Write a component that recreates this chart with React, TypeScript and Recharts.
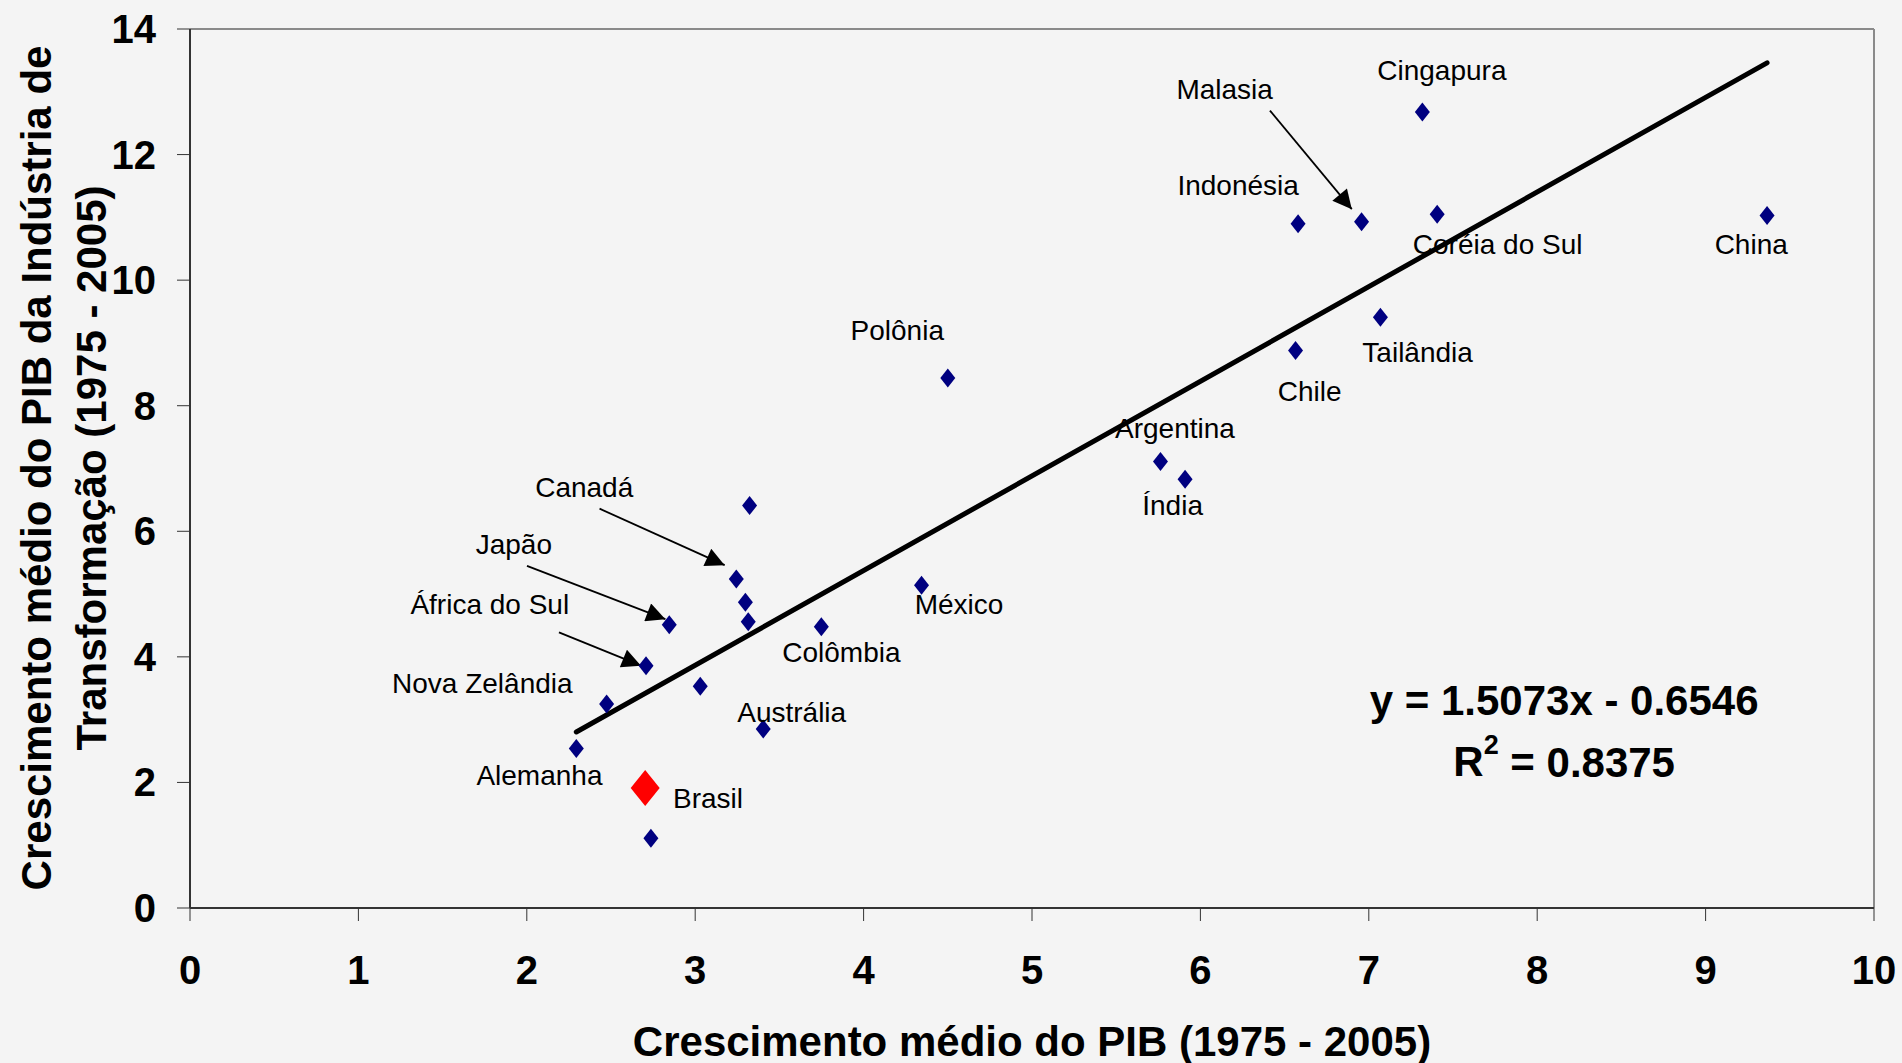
import { ScatterChart, Scatter, XAxis, YAxis, ReferenceLine } from "recharts";

// average growth 1975-2005: GDP (x) vs manufacturing GDP (y)
const pointX = [2.294, 2.474, 2.708, 2.846, 3.03, 3.244, 3.298, 3.315, 3.323, 3.404, 3.749, 4.344, 4.5, 5.763, 5.909, 6.565, 6.58, 6.957, 7.069, 7.318, 7.406, 9.365, 2.737];
const pointY = [2.54, 3.25, 3.86, 4.51, 3.53, 5.24, 4.87, 4.56, 6.41, 2.85, 4.48, 5.14, 8.44, 7.11, 6.83, 8.88, 10.9, 10.93, 9.41, 12.68, 11.05, 11.03, 1.11];

const brasilX = [2.703];
const brasilY = [1.91];

const labelNames = ["Malasia", "Cingapura", "Indonésia", "Coréia do Sul", "China", "Polônia", "Tailândia", "Chile", "Argentina", "Índia", "Canadá", "Japão", "África do Sul", "México", "Colômbia", "Nova Zelândia", "Austrália", "Alemanha", "Brasil"];
const labelX = [6.144, 7.434, 6.224, 7.765, 9.271, 4.2, 7.29, 6.649, 5.849, 5.835, 2.341, 1.923, 1.78, 4.567, 3.868, 1.736, 3.573, 2.075, 3.076];
const labelY = [13.03, 13.34, 11.51, 10.56, 10.56, 9.19, 8.84, 8.23, 7.63, 6.41, 6.7, 5.79, 4.83, 4.83, 4.07, 3.57, 3.11, 2.11, 1.74];

const arrowFromX = [2.432, 2.001, 2.191, 6.413];
const arrowFromY = [6.36, 5.45, 4.39, 12.7];
const arrowToX = [3.175, 2.823, 2.678, 6.899];
const arrowToY = [5.46, 4.6, 3.86, 11.13];

const trendSlope = 1.5073;
const trendIntercept = -0.6546;
const trendRange = [2.294, 9.365];
const rSquared = 0.8375;

const xTicks = [0, 1, 2, 3, 4, 5, 6, 7, 8, 9, 10];
const yTicks = [0, 2, 4, 6, 8, 10, 12, 14];

const FONT = "'Liberation Sans', Arial, sans-serif";

const points = pointX.map((x, i) => ({ x, y: pointY[i] }));
const brasil = brasilX.map((x, i) => ({ x, y: brasilY[i] }));
const labels = labelNames.map((name, i) => ({ x: labelX[i], y: labelY[i], name }));
const equation = [
  { x: 8.16, y: 3.3, kind: "eq" },
  { x: 8.16, y: 2.33, kind: "r2" },
];

const diamond = (w: number, h: number, fill: string) => (props: any) => {
  const { cx, cy } = props;
  return <polygon points={`${cx},${cy - h} ${cx + w},${cy} ${cx},${cy + h} ${cx - w},${cy}`} fill={fill} />;
};

const LabelText = (props: any) => (
  <text x={props.cx} y={props.cy} textAnchor="middle" dominantBaseline="central" fontFamily={FONT} fontSize={28} fill="#000">
    {props.payload.name}
  </text>
);

const EquationText = (props: any) => {
  const { cx, cy, payload } = props;
  if (payload.kind === "eq") {
    return (
      <text x={cx} y={cy} textAnchor="middle" dominantBaseline="central" fontFamily={FONT} fontSize={42} fontWeight="bold" fill="#000">
        {`y = ${trendSlope}x - ${Math.abs(trendIntercept)}`}
      </text>
    );
  }
  return (
    <text x={cx} y={cy} textAnchor="middle" dominantBaseline="central" fontFamily={FONT} fontSize={42} fontWeight="bold" fill="#000">
      R<tspan fontSize={27} dy={-17}>2</tspan>
      <tspan dy={17}>{` = ${rSquared}`}</tspan>
    </text>
  );
};

const XTick = (props: any) => (
  <text x={props.x} y={props.y + 49} textAnchor="middle" dominantBaseline="central" fontFamily={FONT} fontSize={40} fontWeight="bold" fill="#000">
    {props.payload.value}
  </text>
);

const YTick = (props: any) => (
  <text x={props.x} y={props.y} textAnchor="end" dominantBaseline="central" fontFamily={FONT} fontSize={40} fontWeight="bold" fill="#000">
    {props.payload.value}
  </text>
);

const Arrow = (props: any) => (
  <line x1={props.x1} y1={props.y1} x2={props.x2} y2={props.y2} stroke="#000" strokeWidth={1.8} markerEnd="url(#arrowHead)" />
);

export default function App() {
  return (
    <div style={{ position: "absolute", left: 0, top: 0, width: 1902, height: 1063, background: "#f4f4f4", overflow: "hidden" }}>
      <svg width={0} height={0} style={{ position: "absolute" }}>
        <defs>
          <marker id="arrowHead" viewBox="0 0 10 10" refX={10} refY={5} markerWidth={25} markerHeight={19} markerUnits="userSpaceOnUse" orient="auto">
            <path d="M0,0 L10,5 L0,10 z" fill="#000" />
          </marker>
        </defs>
      </svg>
      <ScatterChart width={1902} height={1063} margin={{ top: 29, right: 28, bottom: 0, left: 0 }}>
        <XAxis
          type="number"
          dataKey="x"
          domain={[0, 10]}
          ticks={xTicks}
          height={155}
          tickSize={13}
          tickMargin={0}
          tick={<XTick />}
          axisLine={{ stroke: "#333", strokeWidth: 2 }}
          tickLine={{ stroke: "#333" }}
        />
        <YAxis
          type="number"
          dataKey="y"
          domain={[0, 14]}
          ticks={yTicks}
          width={190}
          tickSize={13}
          tickMargin={21}
          tick={<YTick />}
          axisLine={{ stroke: "#333", strokeWidth: 2 }}
          tickLine={{ stroke: "#333" }}
        />
        <ReferenceLine y={14} stroke="#8a8a8a" strokeWidth={2} />
        <ReferenceLine x={10} stroke="#8a8a8a" strokeWidth={2} />
        <Scatter data={points} shape={diamond(7.5, 9.5, "#000080")} isAnimationActive={false} />
        <Scatter data={brasil} shape={diamond(14.5, 18, "#ff0000")} isAnimationActive={false} />
        <ReferenceLine
          segment={[
            { x: trendRange[0], y: trendSlope * trendRange[0] + trendIntercept },
            { x: trendRange[1], y: trendSlope * trendRange[1] + trendIntercept },
          ]}
          stroke="#000"
          strokeWidth={5}
          strokeLinecap="round"
        />
        {arrowFromX.map((fx, i) => (
          <ReferenceLine
            key={i}
            segment={[
              { x: fx, y: arrowFromY[i] },
              { x: arrowToX[i], y: arrowToY[i] },
            ]}
            shape={Arrow}
          />
        ))}
        <Scatter data={labels} shape={LabelText} isAnimationActive={false} />
        <Scatter data={equation} shape={EquationText} isAnimationActive={false} />
      </ScatterChart>
      <svg width={1902} height={1063} style={{ position: "absolute", left: 0, top: 0, pointerEvents: "none" }}>
        <text x={1032} y={1041} textAnchor="middle" dominantBaseline="central" fontFamily={FONT} fontSize={42} fontWeight="bold" fill="#000">
          Crescimento médio do PIB (1975 - 2005)
        </text>
        <g transform="translate(36,468) rotate(-90)">
          <text x={0} y={0} textAnchor="middle" dominantBaseline="central" fontFamily={FONT} fontSize={42} fontWeight="bold" fill="#000">
            Crescimento médio do PIB da Indústria de
          </text>
        </g>
        <g transform="translate(91,468) rotate(-90)">
          <text x={0} y={0} textAnchor="middle" dominantBaseline="central" fontFamily={FONT} fontSize={42} fontWeight="bold" fill="#000">
            Transformação (1975 - 2005)
          </text>
        </g>
      </svg>
    </div>
  );
}
